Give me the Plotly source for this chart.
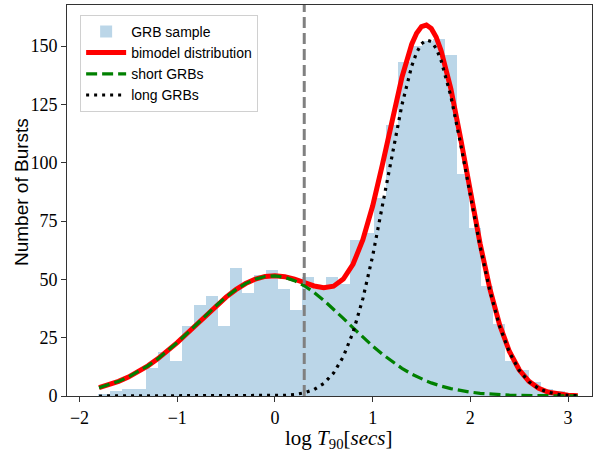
import numpy as np
import plotly.graph_objects as go

# ---------------- data ----------------
bin_lo = -1.806
bin_hi = 3.092
counts = [1, 2, 3, 3, 12, 19, 15, 30, 39, 43,
          30, 55, 44, 52, 54, 46, 37, 51, 46, 51,
          48, 67, 70, 85, 116, 143, 150, 152, 153, 146,
          95, 72, 47, 31, 15, 11, 6, 3, 2, 1]

curve_x = [-1.8, -1.7, -1.6, -1.5, -1.4, -1.3, -1.2, -1.1, -1.0, -0.9,
           -0.8, -0.7, -0.6, -0.5, -0.4, -0.3, -0.2, -0.1, 0.0, 0.1,
           0.2, 0.3, 0.4, 0.5, 0.6, 0.7, 0.8, 0.9, 1.0, 1.1,
           1.2, 1.3, 1.4, 1.45, 1.5, 1.55, 1.6, 1.65, 1.7, 1.8, 1.9, 2.0, 2.1,
           2.2, 2.3, 2.4, 2.5, 2.6, 2.7, 2.8, 2.9, 3.0, 3.1]

short_grb = [3.56, 4.77, 6.27, 8.12, 10.34, 12.93, 15.92, 19.26, 22.91, 26.80,
             30.83, 34.87, 38.78, 42.40, 45.59, 48.20, 50.11, 51.22, 51.48, 50.88,
             49.44, 47.24, 44.38, 41.00, 37.24, 33.26, 29.21, 25.22, 21.42, 17.88,
             14.68, 11.85, 9.40, 8.33, 7.34, 6.44, 5.63, 4.90, 4.25, 3.15, 2.30, 1.65, 1.16,
             0.81, 0.55, 0.37, 0.24, 0.16, 0.10, 0.06, 0.04, 0.02, 0.01]

long_grb = [0, 0, 0, 0, 0, 0, 0, 0, 0, 0,
            0, 0, 0, 0, 0, 0.01, 0.02, 0.04, 0.11, 0.27,
            0.62, 1.35, 2.78, 5.38, 9.82, 16.89, 27.35, 41.75, 60.0, 81.3,
            103.8, 124.8, 141.4, 147.2, 151.0, 152.6, 151.9, 149.0, 143.9, 128.6, 108.2, 85.8, 64.1,
            45.1, 29.9, 18.7, 11.0, 6.1, 3.19, 1.57, 0.73, 0.32, 0.13]

bimodal = [3.56, 4.77, 6.27, 8.12, 10.34, 12.93, 15.92, 19.26, 22.91, 26.80,
           30.83, 34.87, 38.78, 42.40, 45.59, 48.21, 50.13, 51.26, 51.59, 51.15,
           50.06, 48.59, 47.16, 46.38, 47.06, 50.15, 56.56, 66.97, 81.42, 99.18,
           118.48, 136.65, 150.80, 155.5, 158.34, 159.0, 157.53, 153.9, 148.15, 131.75, 110.50, 87.45, 65.26,
           45.91, 30.45, 19.07, 11.24, 6.26, 3.29, 1.63, 0.77, 0.34, 0.14]

cut = 0.3
x_ticks = [-2, -1, 0, 1, 2, 3]
y_ticks = [0, 25, 50, 75, 100, 125, 150]

# ---------------- figure ----------------
nb = len(counts)
width = (bin_hi - bin_lo) / nb
centers = bin_lo + width * (np.arange(nb) + 0.5)

fig = go.Figure()
fig.add_trace(go.Bar(
    x=centers, y=counts, width=width,
    marker=dict(color="rgba(31,119,180,0.3)", line=dict(width=0)),
    name="GRB sample", legendgroup="a",
))
fig.add_trace(go.Scatter(
    x=curve_x, y=bimodal, mode="lines",
    line=dict(color="red", width=5),
    name="bimodel distribution", legendgroup="b",
))
fig.add_trace(go.Scatter(
    x=curve_x, y=short_grb, mode="lines",
    line=dict(color="green", width=3.2, dash="11px,5px"),
    name="short GRBs", legendgroup="c",
))
fig.add_trace(go.Scatter(
    x=curve_x, y=long_grb, mode="lines",
    line=dict(color="black", width=3.2, dash="3px,5px"),
    name="long GRBs", legendgroup="d",
))

fig.add_shape(type="line", xref="x", yref="paper", x0=cut, x1=cut, y0=0, y1=1,
              line=dict(color="gray", width=3, dash="11px,5px"))

axis_font = dict(family="Liberation Serif, DejaVu Serif, serif", size=18, color="black")

# axis titles as annotations for precise placement
fig.add_annotation(
    text="log <i>T</i><sub>90</sub>[<i>secs</i>]",
    xref="paper", yref="paper", x=(338 - 67) / 525, y=-(439 - 396) / 391,
    xanchor="center", yanchor="middle", showarrow=False,
    font=dict(family="Liberation Serif, DejaVu Serif, serif", size=21, color="black"),
)
fig.add_annotation(
    text="Number of Bursts",
    xref="paper", yref="paper", x=-(67 - 21) / 525, y=(396 - 192) / 391,
    xanchor="center", yanchor="middle", showarrow=False, textangle=-90,
    font=dict(family="Liberation Sans, DejaVu Sans, sans-serif", size=19, color="black"),
)

fig.update_layout(
    width=594, height=453,
    margin=dict(l=67, r=2, t=5, b=57),
    paper_bgcolor="white", plot_bgcolor="white",
    bargap=0,
    showlegend=True,
    legend=dict(
        x=0.025, y=0.975, xanchor="left", yanchor="top",
        bgcolor="white", bordercolor="#d0d0d0", borderwidth=1,
        font=dict(family="Liberation Sans, DejaVu Sans, sans-serif", size=14, color="black"),
        tracegroupgap=0, itemwidth=40,
    ),
    xaxis=dict(
        range=[-2.128, 3.245], tickvals=x_ticks,
        ticks="outside", ticklen=5, tickwidth=1, tickcolor="#333",
        showline=True, linecolor="#333", linewidth=1, mirror=True,
        showgrid=False, zeroline=False, tickfont=axis_font,
    ),
    yaxis=dict(
        range=[0, 167.6], tickvals=y_ticks,
        ticks="outside", ticklen=5, tickwidth=1, tickcolor="#333",
        showline=True, linecolor="#333", linewidth=1, mirror=True,
        showgrid=False, zeroline=False, tickfont=axis_font,
    ),
)

fig.write_html("out.html", config={"displayModeBar": False},
               post_script="document.body.style.margin='0px';document.body.style.padding='0px';")
